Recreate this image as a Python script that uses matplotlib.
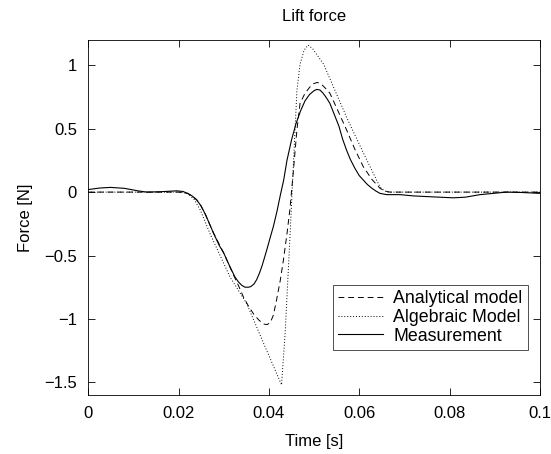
import numpy as np
import matplotlib
matplotlib.use('Agg')
import matplotlib.pyplot as plt
from matplotlib.ticker import FuncFormatter

plt.rcParams['font.family'] = ['Liberation Sans', 'DejaVu Sans']

# Measurement (solid)
t_meas = [0, 0.0025, 0.0049, 0.008, 0.011, 0.013, 0.016, 0.0196, 0.021, 0.022,
          0.023, 0.024, 0.025, 0.026, 0.0277, 0.029, 0.030, 0.0314, 0.0325,
          0.0333, 0.034, 0.0347, 0.0355, 0.036, 0.0367, 0.0373, 0.0379,
          0.0385, 0.0395, 0.0402, 0.041, 0.0418, 0.0425, 0.0433, 0.044, 0.045,
          0.046, 0.047, 0.048, 0.049, 0.050, 0.0506, 0.0513, 0.052, 0.0528,
          0.0535, 0.0545, 0.0555, 0.0563, 0.0572, 0.058, 0.059, 0.06, 0.0609,
          0.0618, 0.0628, 0.0637, 0.0646, 0.0661, 0.069, 0.072, 0.0765, 0.0808,
          0.0835, 0.0867, 0.0926, 0.096, 0.1]
f_meas = [0.02, 0.032, 0.037, 0.03, 0.01, 0.0, 0.003, 0.01, 0.005, -0.01,
          -0.03, -0.06, -0.11, -0.18, -0.32, -0.42, -0.48, -0.59, -0.67,
          -0.71, -0.735, -0.75, -0.75, -0.745, -0.725, -0.69, -0.64,
          -0.58, -0.46, -0.37, -0.27, -0.15, -0.03, 0.1, 0.25, 0.41,
          0.54, 0.64, 0.72, 0.77, 0.80, 0.81, 0.805, 0.78, 0.74,
          0.70, 0.61, 0.52, 0.42, 0.33, 0.26, 0.19, 0.13, 0.095,
          0.06, 0.03, 0.008, -0.01, -0.02, -0.02, -0.03, -0.038, -0.045,
          -0.04, -0.02, 0.0, -0.003, -0.01]

# Analytical model (dashed)
t_anal = [0, 0.020, 0.022, 0.023, 0.024, 0.025, 0.026, 0.0277, 0.030, 0.032,
          0.0333, 0.0344, 0.0355, 0.0366, 0.0378, 0.0388, 0.0396, 0.0403,
          0.041, 0.0417, 0.0425, 0.0432, 0.044, 0.0447, 0.0455, 0.0462,
          0.0469, 0.048, 0.0491, 0.0499, 0.0507, 0.0515, 0.0525, 0.0535,
          0.0553, 0.0572, 0.059, 0.0609, 0.0628, 0.0646, 0.0657, 0.0668,
          0.08, 0.1]
f_anal = [0, 0, -0.01, -0.03, -0.06, -0.11, -0.18, -0.32, -0.48, -0.64,
          -0.74, -0.83, -0.9, -0.96, -1.01, -1.04, -1.045, -1.03,
          -0.97, -0.85, -0.7, -0.54, -0.33, -0.12, 0.2, 0.49,
          0.70, 0.78, 0.83, 0.855, 0.865, 0.855, 0.82, 0.78,
          0.64, 0.49, 0.34, 0.2, 0.1, 0.03, 0.008, 0.0,
          0.0, 0.0]

# Algebraic model (dotted)
t_alg = [0, 0.020, 0.022, 0.0235, 0.0248, 0.027, 0.0314, 0.0351, 0.0388, 0.0428,
         0.0436, 0.0447, 0.0462, 0.0469, 0.0478, 0.0487, 0.0497, 0.0521,
         0.0572, 0.0609, 0.0646, 0.0655, 0.0663, 0.08, 0.1]
f_alg = [0, 0, -0.01, -0.06, -0.14, -0.33, -0.67, -0.88, -1.19, -1.52,
         -1.11, -0.33, 0.80, 1.01, 1.12, 1.16, 1.13, 1.01,
         0.59, 0.31, 0.04, 0.012, 0.0, 0.0, 0.0]

fig = plt.figure(figsize=(5.51, 4.54), dpi=100)
ax = fig.add_axes([0.16, 0.13, 0.82, 0.782])

ax.plot(t_anal, f_anal, color='black', lw=0.7, linestyle=(0, (6, 4)), label='Analytical model')
ax.plot(t_alg, f_alg, color='black', lw=0.7, linestyle=(0, (1, 2)), label='Algebraic Model')
ax.plot(t_meas, f_meas, color='black', lw=0.8, label='Measurement')

ax.set_xlim(0, 0.1)
ax.set_ylim(-1.6, 1.2)
ax.set_xticks([0, 0.02, 0.04, 0.06, 0.08, 0.1])
ax.set_yticks([-1.5, -1, -0.5, 0, 0.5, 1])
fmt = FuncFormatter(lambda v, pos: ('%g' % v).replace('-', '\u2212'))
ax.xaxis.set_major_formatter(fmt)
ax.yaxis.set_major_formatter(fmt)
ax.tick_params(direction='in', top=True, right=True, length=5, width=0.6, labelsize=12, pad=8)
for s in ax.spines.values():
    s.set_linewidth(0.6)

ax.set_title('Lift force', fontsize=12, pad=14)
ax.set_xlabel('Time [s]', fontsize=12, labelpad=9)
ax.set_ylabel('Force [N]', fontsize=12, labelpad=8)

leg = ax.legend(loc='lower right', bbox_to_anchor=(0.973, 0.127), fontsize=12.8, frameon=True,
                fancybox=False, edgecolor='black', handlelength=2.5, borderpad=0.3,
                labelspacing=0.1, handletextpad=0.6, borderaxespad=0)
leg.get_frame().set_linewidth(0.6)

fig.savefig('out.png', dpi=100)
